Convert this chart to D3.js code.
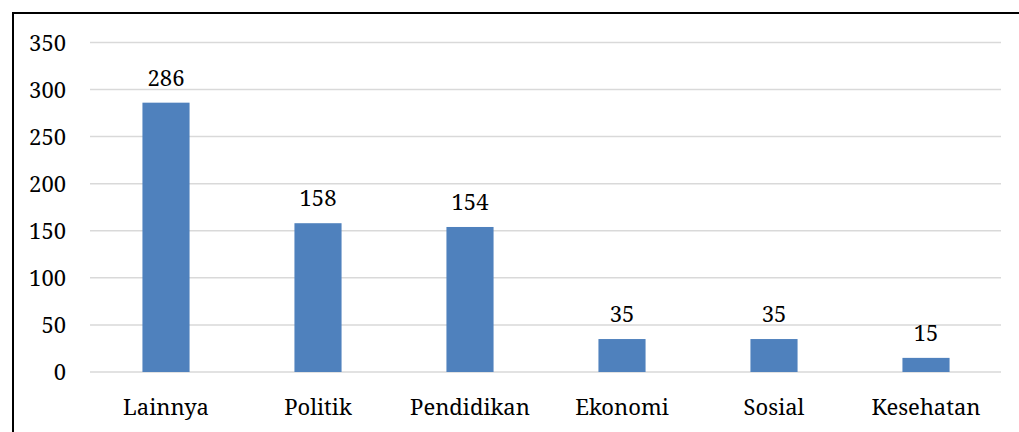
<!DOCTYPE html>
<html>
<head>
<meta charset="utf-8">
<script src="https://cdn.jsdelivr.net/npm/d3@7"></script>
<style>
body { margin: 0; background: #fff; }
</style>
</head>
<body>
<div id="chart"></div>
<script>
var categories = ["Lainnya", "Politik", "Pendidikan", "Ekonomi", "Sosial", "Kesehatan"];
var values = [286, 158, 154, 35, 35, 15];
var yTicks = [0, 50, 100, 150, 200, 250, 300, 350];

var W = 1019, H = 432;
var FONT = "'Noto Serif', 'Liberation Serif', serif";
var margin = {top: 42.4, right: 18, bottom: 60, left: 90};

var svg = d3.select("#chart").append("svg")
  .attr("width", W)
  .attr("height", H);

// outer frame (left + top only visible in picture)
svg.append("path")
  .attr("d", "M13,432 L13,13 L1019,13")
  .attr("fill", "none")
  .attr("stroke", "#000")
  .attr("stroke-width", 2);

var x = d3.scaleBand()
  .domain(categories)
  .range([margin.left, 1002])
  .paddingInner(0.69)
  .paddingOuter(0.345);

var y = d3.scaleLinear()
  .domain([0, 350])
  .range([372, margin.top]);

var g = svg.append("g");

// gridlines
g.selectAll(".grid")
  .data(yTicks)
  .enter().append("line")
  .attr("class", "grid")
  .attr("x1", margin.left)
  .attr("x2", 1001)
  .attr("y1", function(d){ return y(d); })
  .attr("y2", function(d){ return y(d); })
  .attr("stroke", "#d9d9d9")
  .attr("stroke-width", 1.5);

// y axis labels
var yAxis = d3.axisLeft(y).tickValues(yTicks).tickSize(0).tickPadding(0);
g.append("g")
  .attr("transform", "translate(66,0)")
  .call(yAxis)
  .call(function(s){ s.select(".domain").remove(); })
  .selectAll("text")
  .style("font-family", FONT)
  .style("font-size", "22px")
  .attr("fill", "#000")
  .attr("dy", "0.35em");

// bars
g.selectAll(".bar")
  .data(values)
  .enter().append("rect")
  .attr("class", "bar")
  .attr("x", function(d, i){ return x(categories[i]); })
  .attr("width", x.bandwidth())
  .attr("y", function(d){ return y(d); })
  .attr("height", function(d){ return y(0) - y(d); })
  .attr("fill", "#4f81bd");

// value labels
g.selectAll(".value")
  .data(values)
  .enter().append("text")
  .attr("class", "value")
  .attr("x", function(d, i){ return x(categories[i]) + x.bandwidth() / 2; })
  .attr("y", function(d){ return y(d) - 17; })
  .attr("text-anchor", "middle")
  .attr("fill", "#000")
  .style("font-family", FONT)
  .style("font-size", "22px")
  .text(function(d){ return d; });

// x axis labels
var xAxis = d3.axisBottom(x).tickSize(0).tickPadding(0);
g.append("g")
  .attr("transform", "translate(0,372)")
  .call(xAxis)
  .call(function(s){ s.select(".domain").remove(); })
  .selectAll("text")
  .style("font-family", FONT)
  .style("font-size", "22px")
  .attr("fill", "#000")
  .attr("dy", null)
  .attr("y", 43);
</script>
</body>
</html>
